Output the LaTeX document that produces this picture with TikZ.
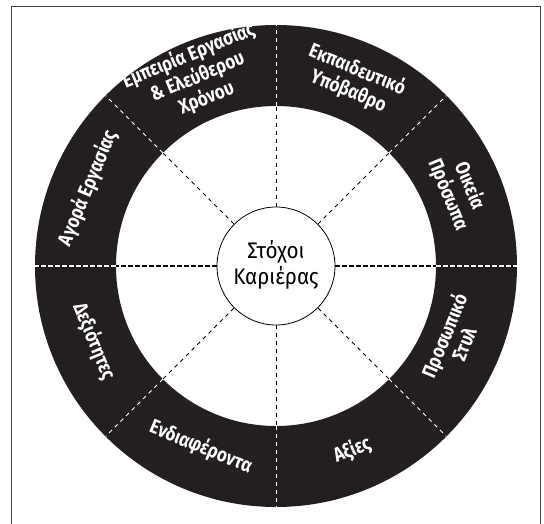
\documentclass[tikz,border=0pt]{standalone}
\usepackage{fontspec}
\usepackage{graphicx}
\newfontfamily\ringfont{Fira Sans}
\newfontfamily\centerfont{Fira Sans}
\definecolor{ringcol}{HTML}{231F20}
\newcommand{\narrowtext}[2]{\scalebox{#1}[1]{\begin{tabular}{@{}c@{}}#2\end{tabular}}}
\begin{document}
\begin{tikzpicture}[x=1pt,y=1pt,
  framestyle/.style={draw=black!75, line width=0.8pt},
  spokebase/.style={dash pattern=on 4pt off 4pt, line width=0.8pt},
  spokehor/.style={dash pattern=on 4.5pt off 2.5pt, line width=1.6pt},
  ringlabel/.style={text=white, inner sep=0pt,
    font=\ringfont\bfseries\fontsize{20}{21}\selectfont},
  centerlabel/.style={circle, draw=black, line width=0.8pt, fill=white,
    minimum size=118pt, inner sep=0pt,
    font=\centerfont\fontsize{22.5}{24}\selectfont}]
\useasboundingbox (-276,-257) rectangle (268,266);
% frame (open at the bottom)
\draw[framestyle] (-264.3,-270) -- (-264.3,260) -- (264.7,260) -- (264.7,-270);
% ring
\fill[ringcol, even odd rule] (0,0) circle (241) (0,0) circle (160);
% centre
\node[centerlabel] (C) at (0,0) {\narrowtext{0.92}{Στόχοι\\Καριέρας}};
% spokes
\foreach \a in {45,90,135,225,270,315} {
  \coordinate (in\a) at (\a:160);
  \coordinate (out\a) at (\a:241);
  \draw[spokebase, black] (C.\a) -- (in\a);
  \draw[spokebase, white] (in\a) -- (out\a);
}
\foreach \a in {0,180} {
  \coordinate (in\a) at (\a:160);
  \coordinate (out\a) at (\a:241);
  \draw[spokehor, black] (C.\a) -- (in\a);
  \draw[spokehor, white] (in\a) -- (out\a);
}
% labels
\node[ringlabel, rotate=22.5]  (L1) at (112.5:204) {\narrowtext{0.85}{Εμπειρία Εργασίας\\\& Ελεύθερου\\Χρόνου}};
\node[ringlabel, rotate=-22.5] (L2) at (67.5:200) {\narrowtext{0.85}{Εκπαιδευτικό\\Υπόβαθρο}};
\node[ringlabel, rotate=-67.5] (L3) at (22.5:197) {\narrowtext{0.85}{Οικεία\\Πρόσωπα}};
\node[ringlabel, rotate=67.5]  (L4) at (-22.5:195) {\narrowtext{0.85}{Προσωπικό\\Στυλ}};
\node[ringlabel, rotate=22.5]  (L5) at (-67.5:200) {\narrowtext{0.85}{Αξίες}};
\node[ringlabel, rotate=-22.5] (L6) at (-112.5:197) {\narrowtext{0.85}{Ενδιαφέροντα}};
\node[ringlabel, rotate=-67.5] (L7) at (-157.5:198) {\narrowtext{0.85}{Δεξιότητες}};
\node[ringlabel, rotate=67.5]  (L8) at (157.5:203) {\narrowtext{0.85}{Αγορά Εργασίας}};
\end{tikzpicture}
\end{document}
